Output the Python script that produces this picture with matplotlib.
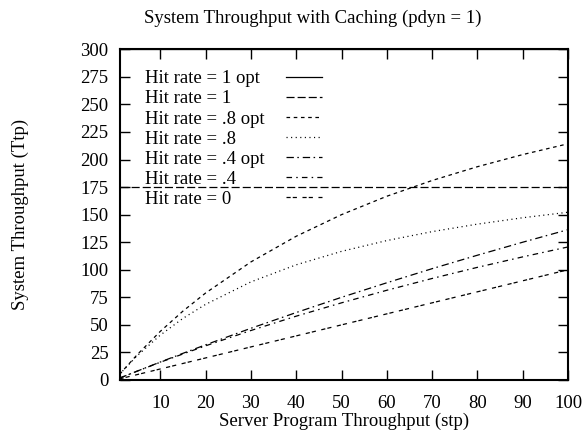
import matplotlib
matplotlib.use("Agg")
import matplotlib.pyplot as plt

plt.rcParams["font.family"] = ["Liberation Serif", "DejaVu Serif"]
plt.rcParams["lines.scale_dashes"] = False

# server program throughput (x) and system throughput per hit rate
stp = [1, 2, 5, 10, 15, 20, 30, 40, 50, 60, 70, 80, 90, 100]
hit_1_opt = [300, 300, 300, 300, 300, 300, 300, 300, 300, 300, 300, 300, 300, 300]
hit_1 = [175, 175, 175, 175, 175, 175, 175, 175, 175, 175, 175, 175, 175, 175]
hit_08_opt = [4.9, 9.7, 23.4, 44.1, 62.5, 78.9, 107.1, 130.4, 150.0, 166.7, 181.0, 193.5, 204.5, 214.3]
hit_08 = [4.9, 9.6, 22.4, 40.7, 55.9, 68.6, 89.0, 104.5, 116.7, 126.5, 134.6, 141.4, 147.2, 152.2]
hit_04_opt = [1.7, 3.3, 8.2, 16.3, 24.2, 31.9, 46.9, 61.2, 75.0, 88.2, 101.0, 113.2, 125.0, 136.4]
hit_04 = [1.7, 3.3, 8.2, 16.1, 23.6, 31.0, 44.9, 57.9, 70.0, 81.4, 92.1, 102.2, 111.7, 120.7]
hit_0 = [1, 2, 5, 10, 15, 20, 30, 40, 50, 60, 70, 80, 90, 100]

labels = ["Hit rate = 1 opt", "Hit rate = 1", "Hit rate = .8 opt", "Hit rate = .8",
          "Hit rate = .4 opt", "Hit rate = .4", "Hit rate = 0"]
series = [hit_1_opt, hit_1, hit_08_opt, hit_08, hit_04_opt, hit_04, hit_0]
styles = ["-", (0, (5.8, 2.2)), (0, (2.6, 2.6)), (0, (0.8, 2.5)),
          (0, (5.3, 2.5, 1.1, 2.8)), (0, (4.0, 3.0, 1.1, 3.0)), (0, (3.0, 1.5, 3.0, 4.0))]

FS = 13.5

fig = plt.figure(figsize=(5.85, 4.30), dpi=100)
ax = fig.add_axes([0.2043, 0.1163, 0.7667, 0.769])

lines = []
for ys, ls, lab in zip(series, styles, labels):
    ln, = ax.plot(stp, ys, color="black", lw=0.9, linestyle=ls, label=lab)
    lines.append(ln)

ax.set_xlim(1, 100)
ax.set_ylim(0, 300)
ax.set_xticks(range(10, 101, 10))
ax.set_yticks(range(0, 301, 25))
ax.tick_params(direction="in", length=7.5, width=1.0, top=True, right=True,
               labelsize=FS)
ax.tick_params(axis="x", pad=11)
ax.tick_params(axis="y", pad=8)
for sp in ax.spines.values():
    sp.set_linewidth(1.5)

ax.set_title("System Throughput with Caching (pdyn = 1)", fontsize=FS, pad=19, x=0.43)
ax.set_xlabel("Server Program Throughput (stp)", fontsize=FS, labelpad=0.5)
ax.set_ylabel("System Throughput (Ttp)", fontsize=FS, labelpad=37)

# key in gnuplot style: text column on the left, samples aligned on the right
leg_text = ax.legend(lines, labels, loc="upper left", bbox_to_anchor=(0.057, 0.937),
                     frameon=False, borderpad=0, borderaxespad=0, handlelength=0,
                     handletextpad=0, labelspacing=0.16, fontsize=FS)
for h in leg_text.legend_handles:
    h.set_visible(False)
ax.add_artist(leg_text)
ax.legend(lines, labels, loc="upper left", bbox_to_anchor=(0.371, 0.937),
          frameon=False, borderpad=0, borderaxespad=0, handlelength=36 / (FS * 100 / 72),
          handletextpad=0, labelspacing=0.16, fontsize=FS, labelcolor="none")

fig.savefig("out.png", dpi=100)
plt.close(fig)
